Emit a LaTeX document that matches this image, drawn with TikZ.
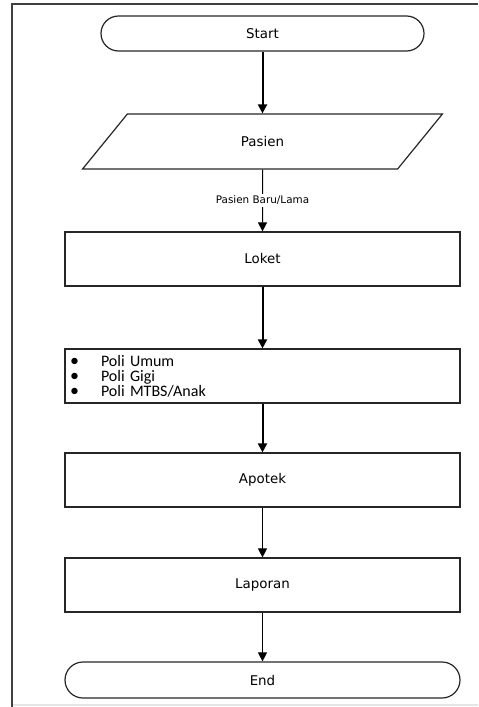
\documentclass[tikz,border=0pt]{standalone}
\usepackage{fontspec}
\setmainfont{DejaVu Sans}
\newfontfamily\listfont{Carlito}
\usetikzlibrary{arrows.meta,shapes.geometric}

\begin{document}
\begin{tikzpicture}[x=0.5pt,y=-0.5pt,
  font=\fontsize{6.7}{8}\selectfont,
  shapeline/.style={draw=black!85,line width=0.6pt,inner sep=0pt},
  terminal/.style={shapeline,rectangle,rounded corners=9pt,minimum width=197.5pt,minimum height=18pt},
  process/.style={shapeline,rectangle,minimum width=197.5pt,minimum height=27pt},
  inout/.style={shapeline,trapezium,trapezium left angle=55.4,trapezium right angle=124.6,
    trapezium stretches=true,minimum width=180pt,minimum height=27.5pt},
  flow/.style={-{Triangle[width=4.5pt,length=4.5pt]},line width=0.5pt},
  heavyflow/.style={flow,line width=1pt}]
\useasboundingbox (0,0) rectangle (478,707);
% frame of the page
\draw[black!75,line width=0.8pt] (478,4) -- (12,4) -- (12,707);
\draw[black!10,line width=0.6pt] (13,705) -- (478,705);
% the steps
\node[terminal,minimum width=161.5pt,minimum height=17.5pt,rounded corners=8.75pt] (start) at (262.5,33.5) {Start};
\node[inout] (pasien) at (262.5,141.5) {Pasien};
\node[process] (loket) at (262.5,259) {Loket};
\node[process,align=left,text width=192.5pt,inner xsep=2.5pt,
  font=\listfont\fontsize{8}{7.6}\selectfont] (poli) at (262.5,376)
  {\makebox[15.5pt][l]{\small\textbullet}Poli Umum\\
   \makebox[15.5pt][l]{\small\textbullet}Poli Gigi\\
   \makebox[15.5pt][l]{\small\textbullet}Poli MTBS/Anak};
\node[process] (apotek) at (262.5,480) {Apotek};
\node[process] (laporan) at (262.5,585) {Laporan};
\node[terminal] (stop) at (262.5,680) {End};
% connectors
\draw[heavyflow] (start) -- (pasien);
\draw[flow] (pasien) -- node[fill=white,inner sep=1pt,font=\fontsize{5.2}{6}\selectfont] {Pasien Baru/Lama} (loket);
\draw[heavyflow] (loket) -- (poli);
\draw[heavyflow] (poli) -- (apotek);
\draw[flow] (apotek) -- (laporan);
\draw[flow] (laporan) -- (stop);
\end{tikzpicture}
\end{document}
